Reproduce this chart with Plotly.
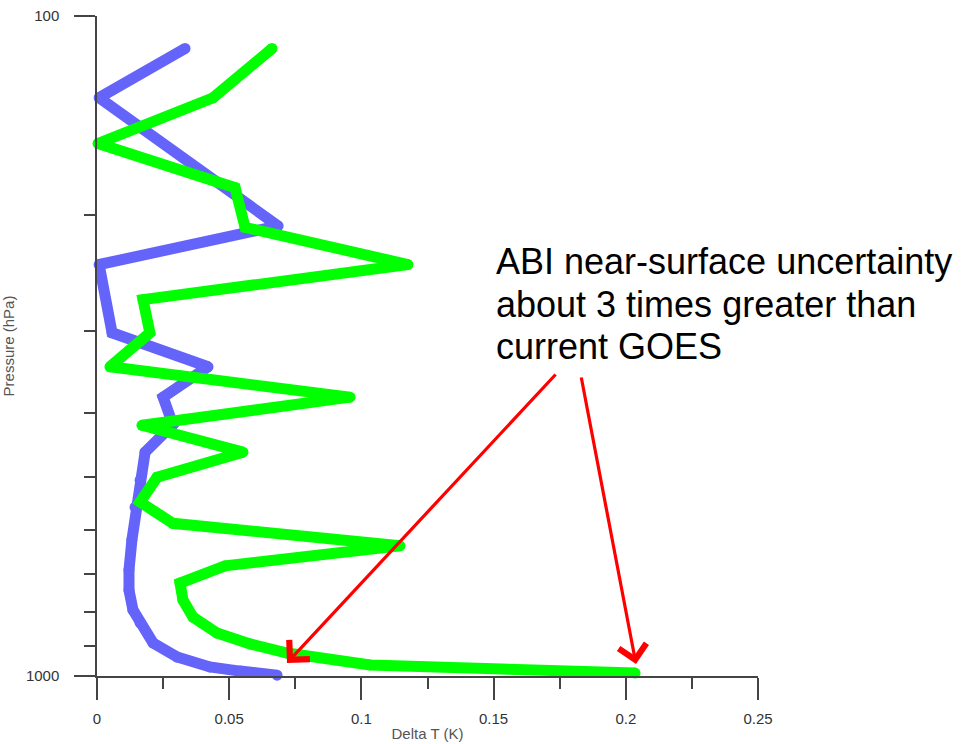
import plotly.graph_objects as go

# ---- data ----
blue_dT = [0.0333, 0.0008, 0.0685, 0.0008, 0.0057, 0.0420, 0.0250, 0.0287, 0.0182, 0.0163,
           0.0144, 0.0132, 0.0121, 0.0121, 0.0136, 0.0163, 0.0212, 0.0303, 0.0427, 0.0541, 0.0681]
blue_p = [112, 133, 208, 238, 302, 340, 378, 416, 458, 505,
          555, 622, 691, 741, 794, 831, 891, 936, 969, 983, 997]

green_dT = [0.0662, 0.0439, 0.0004, 0.0522, 0.0560, 0.1176, 0.0174, 0.0200, 0.0049, 0.0957,
            0.0170, 0.0552, 0.0227, 0.0163, 0.0287, 0.1146, 0.0484, 0.0314, 0.0325, 0.0363,
            0.0454, 0.0579, 0.0719, 0.1033, 0.2035]
green_p = [112, 133, 156, 182, 209, 238, 269, 302, 340, 378,
           417, 458, 500, 545, 587, 635, 681, 723, 767, 814,
           861, 894, 923, 962, 990]

x_ticks = [0, 0.05, 0.1, 0.15, 0.2, 0.25]
x_ticktext = ["0", "0.05", "0.1", "0.15", "0.2", "0.25"]
x_minor = [0.025, 0.075, 0.125, 0.175, 0.225]
y_ticks = [100, 1000]
y_ticktext = ["100", "1000"]
y_minor = [200, 300, 400, 500, 600, 700, 800, 900]

note_lines = ["ABI near-surface uncertainty", "about 3 times greater than", "current GOES"]

# ---- layout geometry (pixels) ----
W, H = 968, 744
L, R, T, B = 97, 210, 16, 68
PW, PH = W - L - R, H - T - B


def px_x(px):
    return (px - L) / PW


def px_y(py):
    return (H - B - py) / PH


BLUE = "#6464fa"
GREEN = "#00ff00"
AX = "#444444"
FONT = "Liberation Sans, Arial, Helvetica, sans-serif"
LW = 11

fig = go.Figure()
fig.add_trace(go.Scatter(x=blue_dT, y=blue_p, mode="lines+markers",
                         line=dict(color=BLUE, width=LW),
                         marker=dict(color=BLUE, size=LW, line=dict(width=0)),
                         cliponaxis=False, showlegend=False))
fig.add_trace(go.Scatter(x=green_dT, y=green_p, mode="lines+markers",
                         line=dict(color=GREEN, width=LW),
                         marker=dict(color=GREEN, size=LW, line=dict(width=0)),
                         cliponaxis=False, showlegend=False))

fig.update_layout(
    width=W, height=H, autosize=False,
    margin=dict(l=L, r=R, t=T, b=B, pad=0),
    paper_bgcolor="white", plot_bgcolor="white",
    font=dict(family=FONT, size=15, color="#333333"),
    showlegend=False,
    xaxis=dict(
        range=[0, 0.25], tickmode="array", tickvals=x_ticks, ticktext=x_ticktext,
        ticks="outside", ticklen=22, tickwidth=1.5, tickcolor=AX,
        showline=True, linecolor=AX, linewidth=1.5, mirror=False, automargin=False,
        showgrid=False, zeroline=False, ticklabelstandoff=6,
        tickfont=dict(size=15, color="#333333"),
        minor=dict(tickmode="array", tickvals=x_minor, ticks="outside", ticklen=11,
                   tickwidth=1.5, tickcolor=AX, showgrid=False),
        title=dict(text="Delta T (K)", font=dict(size=15, color="#555555"), standoff=3),
    ),
    yaxis=dict(
        type="log", range=[3, 2], tickmode="array", tickvals=y_ticks, ticktext=y_ticktext,
        ticks="outside", ticklen=21, tickwidth=1.5, tickcolor=AX,
        showline=True, linecolor=AX, linewidth=1.5, automargin=False,
        showgrid=False, zeroline=False, ticklabelstandoff=12,
        tickfont=dict(size=15, color="#333333"),
        minor=dict(tickmode="array", tickvals=y_minor, ticks="outside", ticklen=11,
                   tickwidth=1.5, tickcolor=AX, showgrid=False),
        title=dict(text="Pressure (hPa)", font=dict(size=15, color="#555555"), standoff=8),
    ),
)

# text annotation (three lines)
for line, cy in zip(note_lines, [261, 304, 347]):
    fig.add_annotation(text=line, xref="paper", yref="paper", x=px_x(494), y=px_y(cy),
                       xanchor="left", yanchor="middle", showarrow=False,
                       font=dict(family=FONT, size=36, color="black"))

# red arrows (tip, tail in pixels)
arrows = [((287, 663), (557, 373)), ((636, 664), (581, 376))]
for (tx, ty), (sx, sy) in arrows:
    fig.add_annotation(text="", xref="paper", yref="paper", x=px_x(tx), y=px_y(ty),
                       ax=sx - tx, ay=sy - ty, axref="pixel", ayref="pixel",
                       showarrow=True, arrowhead=4, arrowsize=1.7, arrowwidth=3.2,
                       arrowcolor="#ff0000", standoff=0, startstandoff=0)

fig.write_html("out.html")
